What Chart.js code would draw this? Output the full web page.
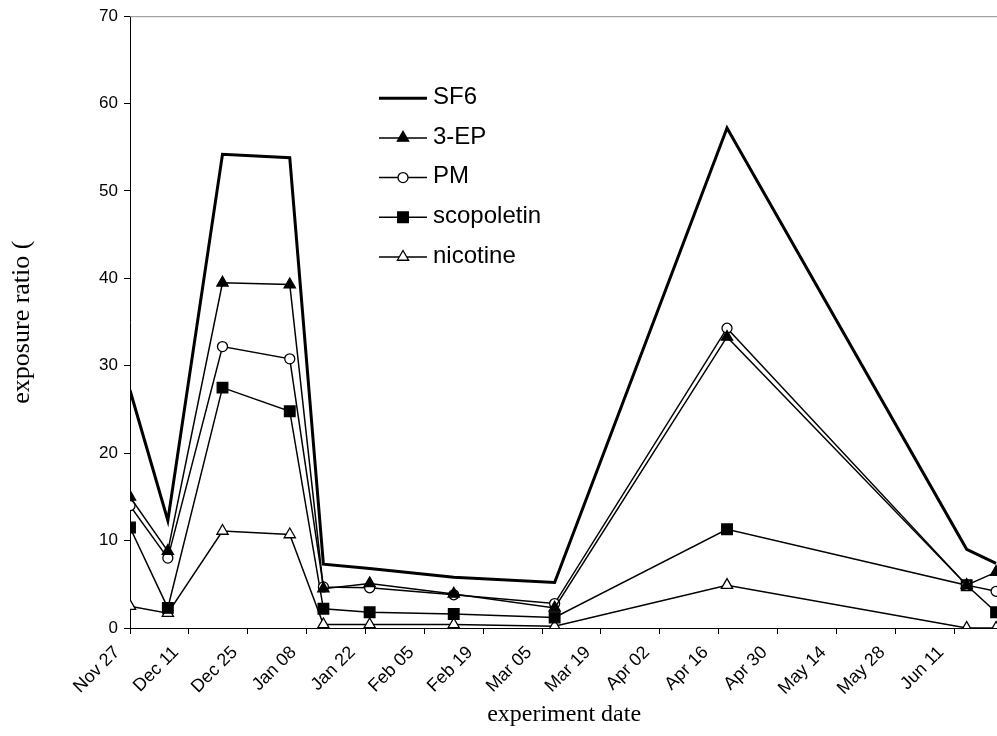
<!DOCTYPE html>
<html lang="en">
<head>
<meta charset="UTF-8">
<title>Exposure ratio</title>
<script src="https://cdn.jsdelivr.net/npm/chart.js"></script>
<style>
    body {
        margin: 0;
        padding: 0;
        background: #fff;
        overflow: hidden;
    }

    #chart-container {
        position: relative;
        width: 1007px;
        height: 736px;
    }
</style>
</head>
<body>
<div id="chart-container">
    <canvas id="chart"></canvas>
</div>
<script>
    // sampling dates of the experiment
    var dates = ['2002-11-27', '2002-12-06', '2002-12-19', '2003-01-04', '2003-01-12', '2003-01-23',
        '2003-02-12', '2003-03-08', '2003-04-18', '2003-06-14', '2003-06-21'];
    // x axis labels, every 14 days from Nov 27
    var tickLabels = ['Nov 27', 'Dec 11', 'Dec 25', 'Jan 08', 'Jan 22', 'Feb 05', 'Feb 19', 'Mar 05',
        'Mar 19', 'Apr 02', 'Apr 16', 'Apr 30', 'May 14', 'May 28', 'Jun 11'];

    var sf6 = [27.2, 12.3, 54.2, 53.8, 7.3, 6.8, 5.8, 5.2, 57.2, 9.0, 7.4];
    var ep3 = [15.0, 8.8, 39.5, 39.3, 4.5, 5.1, 3.9, 2.3, 33.3, 4.9, 6.4];
    var pm = [14.0, 8.0, 32.2, 30.8, 4.7, 4.6, 3.8, 2.8, 34.3, 4.9, 4.2];
    var scopoletin = [11.5, 2.3, 27.5, 24.8, 2.2, 1.8, 1.6, 1.2, 11.3, 4.9, 1.8];
    var nicotine = [2.5, 1.7, 11.1, 10.7, 0.4, 0.4, 0.4, 0.2, 4.9, 0.0, 0.0];

    var DAY = 24 * 3600 * 1000;
    var start = Date.UTC(2002, 10, 27);

    // turn date strings into days since Nov 27
    function toPoints(values) {
        return values.map(function (v, i) {
            var p = dates[i].split('-');
            var d = Date.UTC(+p[0], +p[1] - 1, +p[2]);
            return { x: Math.round((d - start) / DAY), y: v };
        });
    }

    function series(label, values, style, fill, radius, width) {
        return {
            label: label,
            data: toPoints(values),
            borderColor: '#000',
            borderWidth: width,
            backgroundColor: fill,
            pointStyle: style,
            pointRadius: radius,
            pointHoverRadius: radius,
            pointBackgroundColor: fill,
            pointBorderColor: '#000',
            pointBorderWidth: 1.3,
            tension: 0,
            fill: false
        };
    }

    // legend drawn inside the plot, plus the grey top frame line
    var plotLegend = {
        id: 'plotLegend',
        afterDraw: function (chart) {
            var ctx = chart.ctx;
            var area = chart.chartArea;
            ctx.save();
            ctx.strokeStyle = '#8c8c8c';
            ctx.lineWidth = 1;
            ctx.beginPath();
            ctx.moveTo(area.left, area.top + 0.5);
            ctx.lineTo(area.right, area.top + 0.5);
            ctx.stroke();

            var x0 = area.left + 249;
            var y0 = area.top + 82;
            ctx.font = '24px "Liberation Sans", Arial, sans-serif';
            ctx.textBaseline = 'middle';
            chart.data.datasets.forEach(function (ds, i) {
                var y = y0 + i * 39.7;
                ctx.strokeStyle = '#000';
                ctx.lineWidth = ds.borderWidth;
                ctx.beginPath();
                ctx.moveTo(x0, y);
                ctx.lineTo(x0 + 48, y);
                ctx.stroke();
                if (ds.pointRadius > 0) {
                    ctx.fillStyle = ds.pointBackgroundColor;
                    ctx.lineWidth = ds.pointBorderWidth;
                    Chart.helpers.drawPoint(ctx, {
                        pointStyle: ds.pointStyle,
                        radius: ds.pointRadius,
                        borderWidth: ds.pointBorderWidth,
                        rotation: 0
                    }, x0 + 24, y);
                }
                ctx.fillStyle = '#000';
                ctx.fillText(ds.label, x0 + 54, y - 1);
            });
            ctx.restore();
        }
    };

    var ctx = document.getElementById('chart').getContext('2d');
    var chart = new Chart(ctx, {
        type: 'line',
        data: {
            datasets: [
                series('SF6', sf6, 'circle', '#000', 0, 3),
                series('3-EP', ep3, 'triangle', '#000', 6.5, 1.5),
                series('PM', pm, 'circle', '#fff', 5, 1.5),
                series('scopoletin', scopoletin, 'rect', '#000', 7.5, 1.5),
                series('nicotine', nicotine, 'triangle', '#fff', 6.5, 1.5)
            ]
        },
        options: {
            responsive: true,
            maintainAspectRatio: false,
            animation: false,
            layout: { padding: { top: 15, right: 0, left: 0, bottom: 0 } },
            plugins: {
                legend: { display: false },
                tooltip: { enabled: false }
            },
            scales: {
                x: {
                    type: 'linear',
                    min: 0,
                    max: 206.5,
                    afterBuildTicks: function (scale) {
                        scale.ticks = tickLabels.map(function (l, i) { return { value: i * 14 }; });
                    },
                    afterFit: function (scale) { scale.height = 108; },
                    ticks: {
                        autoSkip: false,
                        minRotation: 45,
                        maxRotation: 45,
                        padding: 8,
                        labelOffset: -13,
                        color: '#000',
                        font: { family: '"Liberation Sans", Arial, sans-serif', size: 18 },
                        callback: function (value, index) { return tickLabels[index]; }
                    },
                    grid: { drawOnChartArea: false, tickLength: 6, color: '#000' },
                    border: { color: '#000', width: 1 },
                    title: {
                        display: true,
                        text: 'experiment date',
                        color: '#000',
                        font: { family: '"Liberation Serif", "Times New Roman", serif', size: 24 },
                        padding: { top: 0, bottom: 7 }
                    }
                },
                y: {
                    min: 0,
                    max: 70,
                    afterFit: function (scale) { scale.width = 130; },
                    ticks: {
                        stepSize: 10,
                        padding: 6,
                        color: '#000',
                        font: { family: '"Liberation Sans", Arial, sans-serif', size: 17 }
                    },
                    grid: { drawOnChartArea: false, tickLength: 6, color: '#000' },
                    border: { color: '#000', width: 1 },
                    title: {
                        display: true,
                        text: 'exposure ratio (',
                        color: '#000',
                        font: { family: '"Liberation Serif", "Times New Roman", serif', size: 26 },
                        padding: { top: 7, bottom: 0 }
                    }
                }
            }
        },
        plugins: [plotLegend]
    });
</script>
</body>
</html>
